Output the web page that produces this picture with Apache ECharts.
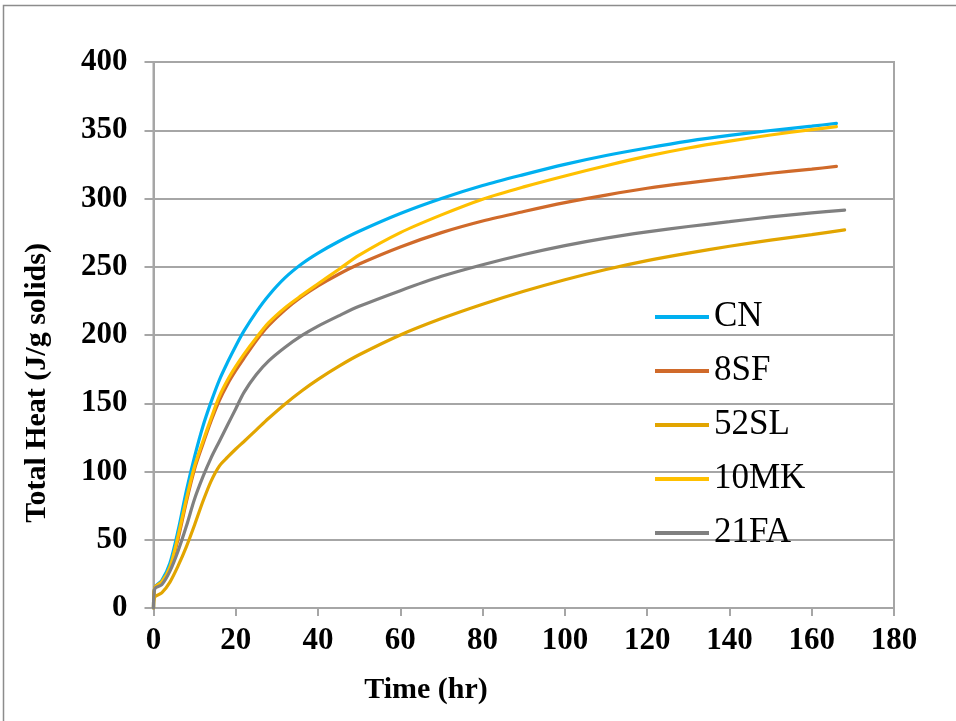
<!DOCTYPE html>
<html>
<head>
<meta charset="utf-8">
<title>Total Heat</title>
<script src="https://cdn.jsdelivr.net/npm/echarts@6/dist/echarts.min.js"></script>
<style>
  html, body { margin: 0; padding: 0; background: #ffffff; }
  #chart { width: 956px; height: 721px; }
</style>
</head>
<body>
<div id="chart"></div>
<script>
// Sampling times (hr) for the mixes tested to ~166 h and ~168 h
const timeShort = [0, 0.3, 2, 4, 6, 8, 10, 12, 14, 16, 18, 20, 22, 25, 28, 32, 36, 40, 45, 50, 60, 70, 80, 90, 100, 110, 120, 130, 140, 150, 160, 166];
const timeLong  = [0, 0.3, 2, 4, 6, 8, 10, 12, 14, 16, 18, 20, 22, 25, 28, 32, 36, 40, 45, 50, 60, 70, 80, 90, 100, 110, 120, 130, 140, 150, 160, 168];

// Cumulative heat of hydration (J/g solids)
const heatCN   = [0, 15, 20, 33, 57, 86, 111, 133, 151, 167, 180, 192, 203, 217, 229, 242, 252, 260, 268.5, 276, 289, 300, 309.5, 317.5, 325, 331.5, 337, 342, 346.2, 349.8, 353, 355];
const heat8SF  = [0, 15, 19, 29, 51, 78, 102, 120, 137, 152, 164, 174, 183, 196, 207, 218.5, 228, 236, 244.5, 252, 264.5, 275, 283.5, 290.5, 297, 302.5, 307.5, 311.5, 315, 318.5, 321.5, 323.5];
const heat52SL = [0, 8, 11, 19, 31, 45, 61, 78, 93, 104, 110.5, 116.5, 122, 130.5, 139, 149.5, 159, 167.5, 177, 185.5, 200, 212, 222.5, 232, 240.5, 248, 254.5, 260, 265, 269.5, 273.5, 277];
const heat10MK = [0, 15, 19, 30, 53, 80, 104, 122, 139, 155, 167, 177, 186, 198, 209, 220, 229, 237.5, 248, 258.5, 275, 288, 299.5, 308.5, 316.5, 324, 331, 337, 342, 346.5, 350.5, 352.6];
const heat21FA = [0, 14, 17, 27, 42, 60, 80, 96, 110, 122, 134, 146, 158, 171, 181, 191, 199.5, 206.5, 214, 221, 232.5, 243, 251.5, 259, 265.5, 271, 275.5, 279.5, 283, 286.5, 289.5, 291.5];

const seriesNames = ['CN', '8SF', '52SL', '10MK', '21FA'];
const seriesColors = ['#00B0F0', '#D06A2A', '#E2A500', '#FFC000', '#808080'];
const seriesTimes = [timeShort, timeShort, timeLong, timeShort, timeLong];
const seriesHeat = [heatCN, heat8SF, heat52SL, heat10MK, heat21FA];

const xTicks = { min: 0, max: 180, interval: 20 };
const yTicks = { min: 0, max: 400, interval: 50 };

const serif = '"Liberation Serif", "Times New Roman", serif';
const gridGray = '#A6A6A6';

function pairs(ts, vs) {
  return ts.map((t, i) => [t, vs[i]]);
}

const chart = echarts.init(document.getElementById('chart'), null, { renderer: 'canvas' });

chart.setOption({
  backgroundColor: '#ffffff',
  animation: false,
  grid: {
    left: 153.5, right: 62, top: 62, bottom: 113,
    show: true, borderColor: gridGray, borderWidth: 2, backgroundColor: 'transparent'
  },
  xAxis: {
    type: 'value',
    min: xTicks.min, max: xTicks.max, interval: xTicks.interval,
    axisLine: { show: true, lineStyle: { color: gridGray, width: 2 } },
    axisTick: { show: true, inside: false, length: 8, lineStyle: { color: gridGray, width: 2 } },
    splitLine: { show: false },
    axisLabel: { fontFamily: serif, fontWeight: 'bold', fontSize: 31, color: '#000', margin: 17 }
  },
  yAxis: {
    type: 'value',
    min: yTicks.min, max: yTicks.max, interval: yTicks.interval,
    axisLine: { show: true, lineStyle: { color: gridGray, width: 2 } },
    axisTick: { show: true, inside: false, length: 9, lineStyle: { color: gridGray, width: 2 } },
    splitLine: { show: true, lineStyle: { color: gridGray, width: 2 } },
    axisLabel: { fontFamily: serif, fontWeight: 'bold', fontSize: 31, color: '#000', margin: 26 }
  },
  legend: {
    orient: 'vertical',
    left: 650, top: 294,
    icon: 'rect',
    itemWidth: 54, itemHeight: 4,
    itemGap: 18,
    data: seriesNames,
    textStyle: { fontFamily: serif, fontSize: 35, color: '#000', lineHeight: 36 }
  },
  graphic: [
    {
      type: 'rect', silent: true, z: -10,
      shape: { x: 3.5, y: 5.5, width: 1200, height: 1200 },
      style: { fill: 'none', stroke: '#8C8C8C', lineWidth: 1.5 }
    },
    {
      type: 'text', x: 37, y: 383, rotation: Math.PI / 2,
      style: {
        text: 'Total Heat (J/g solids)', fill: '#000',
        font: 'bold 30px ' + serif, align: 'center', verticalAlign: 'middle'
      }
    },
    {
      type: 'text', x: 426, y: 690,
      style: {
        text: 'Time (hr)', fill: '#000',
        font: 'bold 30px ' + serif, align: 'center', verticalAlign: 'middle'
      }
    }
  ],
  series: seriesNames.map((name, i) => ({
    name: name,
    type: 'line',
    data: pairs(seriesTimes[i], seriesHeat[i]),
    smooth: 0.3,
    showSymbol: false,
    symbol: 'none',
    color: seriesColors[i],
    lineStyle: { color: seriesColors[i], width: 3.2, cap: 'round' },
    z: 2 + i
  }))
});
</script>
</body>
</html>
